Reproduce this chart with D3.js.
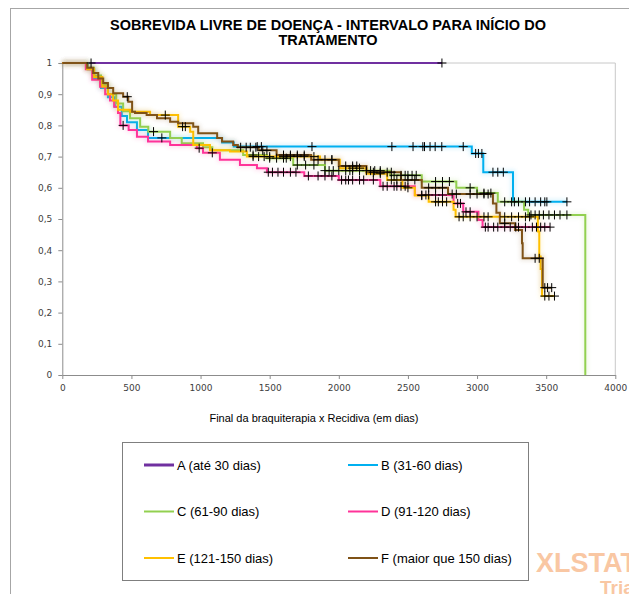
<!DOCTYPE html>
<html>
<head>
<meta charset="utf-8">
<script src="https://cdn.jsdelivr.net/npm/d3@7"></script>
<style>
  body { margin: 0; background: #fff; }
  svg { display: block; }
</style>
</head>
<body>
<div class="chart"></div>
<script>
// series names and colours
const groups = ['A (até 30 dias)', 'B (31-60 dias)', 'C (61-90 dias)', 'D (91-120 dias)', 'E (121-150 dias)', 'F (maior que 150 dias)'];
const colors = ['#7030a0', '#00b0f0', '#92d050', '#ff3399', '#ffc000', '#7f5217'];

// event steps [time, survival after the drop]
const stepsA = [];
const stepsB = [[185, 0.98], [230, 0.95], [280, 0.92], [330, 0.89], [380, 0.86], [430, 0.83], [468, 0.81], [540, 0.785], [620, 0.76], [1156, 0.745], [1240, 0.732], [2962, 0.71], [3045, 0.65], [3260, 0.555]];
const stepsC = [[180, 0.985], [230, 0.96], [280, 0.93], [330, 0.9], [390, 0.87], [440, 0.845], [490, 0.823], [563, 0.796], [622, 0.78], [780, 0.76], [864, 0.743], [1018, 0.73], [1085, 0.72], [1308, 0.705], [1480, 0.695], [1670, 0.673], [1900, 0.655], [2370, 0.64], [2600, 0.62], [2850, 0.6], [3000, 0.583], [3150, 0.555], [3340, 0.53], [3370, 0.513], [3783, 0]];
const stepsD = [[170, 0.98], [216, 0.946], [273, 0.924], [310, 0.9], [345, 0.88], [375, 0.86], [403, 0.84], [420, 0.8], [480, 0.785], [540, 0.764], [620, 0.748], [780, 0.737], [973, 0.727], [1018, 0.712], [1140, 0.69], [1285, 0.673], [1408, 0.663], [1480, 0.65], [1750, 0.638], [2000, 0.625], [2300, 0.605], [2550, 0.577], [2830, 0.55], [2900, 0.523], [3010, 0.497], [3040, 0.474]];
const stepsE = [[180, 0.98], [230, 0.955], [290, 0.925], [330, 0.9], [368, 0.88], [403, 0.85], [490, 0.844], [635, 0.833], [838, 0.796], [925, 0.78], [947, 0.737], [1068, 0.72], [1213, 0.716], [1335, 0.7], [1864, 0.69], [2008, 0.663], [2200, 0.645], [2350, 0.625], [2460, 0.6], [2550, 0.575], [2650, 0.555], [2830, 0.53], [2845, 0.507], [3440, 0.46], [3450, 0.38], [3460, 0.34], [3470, 0.253]];
const stepsF = [[180, 0.985], [223, 0.968], [260, 0.95], [296, 0.936], [330, 0.92], [368, 0.903], [440, 0.892], [477, 0.876], [505, 0.844], [526, 0.84], [610, 0.833], [685, 0.823], [780, 0.812], [838, 0.807], [947, 0.796], [983, 0.775], [1120, 0.76], [1155, 0.748], [1236, 0.737], [1270, 0.73], [1420, 0.72], [1550, 0.705], [1800, 0.69], [2000, 0.67], [2200, 0.65], [2450, 0.625], [2600, 0.6], [2790, 0.58], [3115, 0.55], [3140, 0.52], [3165, 0.486], [3275, 0.465], [3325, 0.422], [3330, 0.374], [3475, 0.28]];

// censored times
const censA = [208, 2746];
const censB = [720, 1410, 1440, 1806, 2384, 2537, 2608, 2620, 2660, 2697, 2745, 2900, 2990, 3010, 3035, 3115, 3150, 3190, 3270, 3300, 3350, 3380, 3420, 3460, 3490, 3505, 3650];
const censC = [660, 1380, 1500, 1550, 1600, 1620, 1700, 1760, 1820, 1900, 1930, 1960, 2000, 2050, 2080, 2100, 2150, 2200, 2230, 2260, 2300, 2400, 2450, 2480, 2500, 2530, 2560, 2700, 2750, 2800, 2950, 3050, 3100, 3200, 3250, 3390, 3420, 3450, 3480, 3520, 3560, 3600, 3650];
const censD = [440, 990, 1085, 1490, 1520, 1560, 1600, 1650, 1690, 1780, 1850, 1900, 1950, 2020, 2050, 2070, 2100, 2150, 2180, 2250, 2320, 2350, 2400, 2420, 2450, 2480, 2600, 2630, 2650, 2700, 2750, 2860, 2880, 2920, 2950, 3060, 3080, 3120, 3150, 3200, 3240, 3280, 3300, 3350, 3400, 3430, 3460, 3490, 3528];
const censE = [745, 870, 890, 1380, 1420, 1460, 1500, 1600, 1650, 1700, 1750, 1820, 1950, 2100, 2150, 2300, 2380, 2420, 2500, 2600, 2700, 2720, 2750, 2780, 2870, 2900, 2950, 3000, 3050, 3080, 3200, 3250, 3300, 3350, 3380, 3490, 3520, 3560];
const censF = [470, 1290, 1330, 1360, 1400, 1450, 1480, 1600, 1650, 1700, 1750, 1850, 1900, 1950, 2050, 2100, 2130, 2250, 2300, 2350, 2380, 2500, 2550, 2650, 2700, 2750, 2820, 2850, 2950, 3000, 3050, 3080, 3200, 3420, 3450, 3490, 3510, 3540];

const yTicks = [0, 0.1, 0.2, 0.3, 0.4, 0.5, 0.6, 0.7, 0.8, 0.9, 1];
const xTicks = [0, 500, 1000, 1500, 2000, 2500, 3000, 3500, 4000];

const steps = [stepsA, stepsB, stepsC, stepsD, stepsE, stepsF];
const cens = [censA, censB, censC, censD, censE, censF];

const width = 629;
const height = 594;

const svg = d3
  .select('.chart')
  .append('svg')
  .attr('width', width)
  .attr('height', height);

const defs = svg.append('defs');
defs
  .append('filter')
  .attr('id', 'blur')
  .attr('x', '-10%')
  .attr('y', '-10%')
  .attr('width', '120%')
  .attr('height', '120%')
  .append('feGaussianBlur')
  .attr('stdDeviation', 2);

// outer chart frame
svg
  .append('rect')
  .attr('x', 10.5)
  .attr('y', 8.5)
  .attr('width', 640)
  .attr('height', 620)
  .attr('fill', 'none')
  .attr('stroke', '#a6a6a6');

const x = d3.scaleLinear().domain([0, 4000]).range([62.3, 615.3]);
const y = d3.scaleLinear().domain([0, 1]).range([375, 63]);

// plot area border (top / right)
svg
  .append('path')
  .attr('d', `M${x(0)},${y(1)}H${x(4000)}V${y(0)}`)
  .attr('fill', 'none')
  .attr('stroke', '#c8c8c8');

const fmt = (d) => String(+d.toFixed(1)).replace('.', ',');

const yAxis = svg
  .append('g')
  .attr('transform', `translate(${x(0)},0)`)
  .call(d3.axisLeft(y).tickValues(yTicks).tickFormat(fmt).tickSize(4).tickSizeOuter(0).tickPadding(6));

const xAxis = svg
  .append('g')
  .attr('transform', `translate(0,${y(0)})`)
  .call(d3.axisBottom(x).tickValues(xTicks).tickFormat(d3.format('d')).tickSize(4).tickSizeOuter(0).tickPadding(6));

[yAxis, xAxis].forEach((g) => {
  g.selectAll('path, line').attr('stroke', '#8c8c8c');
  g.selectAll('text')
    .attr('fill', '#404040')
    .style('font-family', 'DejaVu Sans, Verdana, sans-serif')
    .style('font-size', '9px');
});

// curves
const line = d3
  .line()
  .x((d) => x(d[0]))
  .y((d) => y(d[1]))
  .curve(d3.curveStepAfter);

const survAt = (st, t) => {
  let s = 1;
  st.forEach((d) => {
    if (d[0] <= t) s = d[1];
  });
  return s;
};

steps.forEach((st, i) => {
  const c = cens[i];
  const end = Math.max(d3.max(c), st.length ? st[st.length - 1][0] : 0);
  const pts = [[0, 1]].concat(st);
  pts.push([end, pts[pts.length - 1][1]]);

  // soft glow like the original
  svg
    .append('path')
    .attr('d', line(pts))
    .attr('fill', 'none')
    .attr('stroke', colors[i])
    .attr('stroke-width', 5)
    .attr('opacity', 0.14)
    .attr('filter', 'url(#blur)');

  svg
    .append('path')
    .attr('d', line(pts))
    .attr('fill', 'none')
    .attr('stroke', colors[i])
    .attr('stroke-width', 2);
});

// censor marks
steps.forEach((st, i) => {
  svg
    .selectAll(null)
    .data(cens[i])
    .enter()
    .append('path')
    .attr('transform', (t) => `translate(${x(t)},${y(survAt(st, t))})`)
    .attr('d', 'M-4.5,0H4.5M0,-4.5V4.5')
    .attr('stroke', '#000')
    .attr('stroke-width', 1)
    .attr('fill', 'none');
});

// title
const title = svg
  .append('text')
  .attr('text-anchor', 'middle')
  .style('font-family', 'Liberation Sans, Arial, sans-serif')
  .style('font-weight', 'bold')
  .style('font-size', '14.5px')
  .attr('fill', '#000');
title.append('tspan').attr('x', 328).attr('y', 30).text('SOBREVIDA LIVRE DE DOENÇA - INTERVALO PARA INÍCIO DO');
title.append('tspan').attr('x', 328).attr('y', 45).text('TRATAMENTO');

// x axis title
svg
  .append('text')
  .attr('x', 314)
  .attr('y', 422)
  .attr('text-anchor', 'middle')
  .style('font-family', 'Liberation Sans, Arial, sans-serif')
  .style('font-size', '11px')
  .attr('fill', '#000')
  .text('Final da braquiterapia x Recidiva (em dias)');

// legend
svg
  .append('rect')
  .attr('x', 122.5)
  .attr('y', 442.5)
  .attr('width', 406)
  .attr('height', 138)
  .attr('fill', '#fff')
  .attr('stroke', '#7f7f7f');

const legend = svg
  .selectAll('.leg')
  .data(groups)
  .enter()
  .append('g')
  .attr('transform', (d, i) => `translate(${i % 2 === 0 ? 144 : 348},${465 + Math.floor(i / 2) * 46.5})`);

legend
  .append('line')
  .attr('x1', 0)
  .attr('x2', 30)
  .attr('stroke', (d, i) => colors[i])
  .attr('stroke-width', (d, i) => (i === 0 ? 3 : 2));

legend
  .append('text')
  .attr('x', 33)
  .attr('dy', '0.35em')
  .style('font-family', 'Liberation Sans, Arial, sans-serif')
  .style('font-size', '13px')
  .attr('fill', '#000')
  .text((d) => d);

// watermark
svg
  .append('text')
  .attr('x', 536)
  .attr('y', 572)
  .style('font-family', 'Liberation Sans, Arial, sans-serif')
  .style('font-weight', 'bold')
  .style('font-size', '27px')
  .attr('fill', '#f9c7a3')
  .text('XLSTAT');
svg
  .append('text')
  .attr('x', 600)
  .attr('y', 594)
  .style('font-family', 'Liberation Sans, Arial, sans-serif')
  .style('font-weight', 'bold')
  .style('font-size', '19px')
  .attr('fill', '#f9c7a3')
  .text('Trial');
</script>
</body>
</html>
